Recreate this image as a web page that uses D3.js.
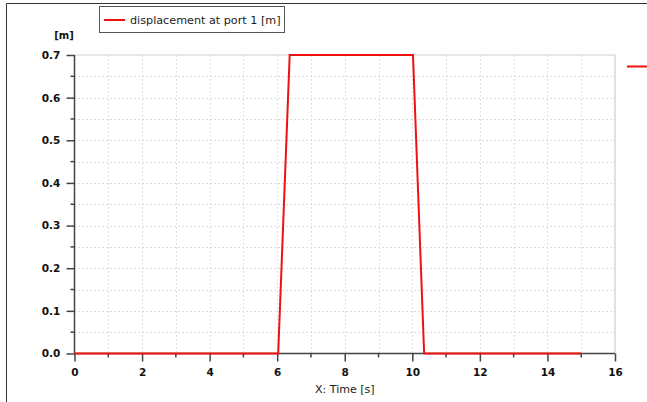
<!DOCTYPE html>
<html><head><meta charset="utf-8">
<script src="https://cdn.jsdelivr.net/npm/d3@7"></script>
<style>body{margin:0;background:#fff;}svg{display:block;}</style>
</head><body>
<svg id="c" width="647" height="402"></svg>
<script>
const time = [0, 6.03, 6.37, 10.02, 10.35, 15];
const displacement = [0, 0, 0.7, 0.7, 0, 0];
const xTicks = [0, 2, 4, 6, 8, 10, 12, 14, 16];
const yTicks = [0.0, 0.1, 0.2, 0.3, 0.4, 0.5, 0.6, 0.7];
const seriesName = "displacement at port 1 [m]";
const yUnit = "[m]";
const xTitle = "X: Time [s]";

const svg = d3.select("#c");
const font = "'DejaVu Sans', Verdana, sans-serif";
const L = 74.5, R = 615, T = 55, B = 353.5;
const x = d3.scaleLinear().domain([0, 16]).range([L, R]);
const y = d3.scaleLinear().domain([0, 0.7]).range([B, T]);

// outer frame
svg.append("path").attr("d", `M6.5,402 V3.5 H647`).attr("fill", "none").attr("stroke", "#333").attr("stroke-width", 1);

// grid
const gx = d3.range(1, 16, 1), gy = d3.range(0.05, 0.7, 0.05);
svg.append("g").selectAll("line").data(gx).join("line")
  .attr("x1", d => Math.round(x(d)) + 0.5).attr("x2", d => Math.round(x(d)) + 0.5)
  .attr("y1", T).attr("y2", B).attr("stroke", "#d4d4d4").attr("stroke-dasharray", "1.5,2.5");
svg.append("g").selectAll("line").data(gy).join("line")
  .attr("y1", d => Math.round(y(d)) + 0.5).attr("y2", d => Math.round(y(d)) + 0.5)
  .attr("x1", L).attr("x2", R).attr("stroke", "#d4d4d4").attr("stroke-dasharray", "1.5,2.5");
// top/right border
svg.append("path").attr("d", `M${L},${T} H${R} V${B}`).attr("fill", "none").attr("stroke", "#cfcfcf").attr("stroke-width", 1.2);

// axes
const xAxis = d3.axisBottom(x).tickValues(xTicks).tickSize(8).tickFormat(d3.format("d"));
const gX = svg.append("g").attr("transform", `translate(0,${B})`).call(xAxis);
const yAxis = d3.axisLeft(y).tickValues(yTicks).tickSize(8).tickFormat(d3.format(".1f"));
const gY = svg.append("g").attr("transform", `translate(${L},0)`).call(yAxis);
[gX, gY].forEach(g => {
  g.select(".domain").attr("stroke", "#444").attr("stroke-width", 1.5);
  g.selectAll(".tick line").attr("stroke", "#444").attr("stroke-width", 1.5);
  g.selectAll("text").attr("font-family", font).attr("font-weight", "bold").attr("font-size", 10.5).attr("fill", "#111");
});
gX.select(".domain").attr("d", `M${L},0H${R}`);
gY.select(".domain").attr("d", `M0,${B}V${T}`);
gX.selectAll("text").attr("dy", "1.05em");
gY.selectAll("text").attr("dx", "-0.3em");
// minor ticks
svg.append("g").selectAll("line").data(d3.range(1, 16, 2)).join("line")
  .attr("x1", d => x(d)).attr("x2", d => x(d)).attr("y1", B).attr("y2", B + 4)
  .attr("stroke", "#444").attr("stroke-width", 1.5);
svg.append("g").selectAll("line").data(d3.range(0.05, 0.7, 0.1)).join("line")
  .attr("y1", d => y(d)).attr("y2", d => y(d)).attr("x1", L).attr("x2", L - 4)
  .attr("stroke", "#444").attr("stroke-width", 1.5);

// series
const pts = time.map((t, i) => [t, displacement[i]]);
svg.append("path").datum(pts)
  .attr("d", d3.line().x(d => x(d[0])).y(d => y(d[1])))
  .attr("fill", "none").attr("stroke", "#ee1111").attr("stroke-width", 2);

// labels
svg.append("text").attr("x", 64).attr("y", 39).attr("text-anchor", "middle")
  .attr("font-family", font).attr("font-weight", "bold").attr("font-size", 10).attr("fill", "#111").text(yUnit);
svg.append("text").attr("x", (L + R) / 2).attr("y", 393).attr("text-anchor", "middle")
  .attr("font-family", font).attr("font-size", 11).attr("fill", "#222").text(xTitle);

// legend
svg.append("rect").attr("x", 99.5).attr("y", 6.5).attr("width", 185).attr("height", 26)
  .attr("fill", "#fff").attr("stroke", "#555").attr("stroke-width", 1);
svg.append("line").attr("x1", 104).attr("x2", 125).attr("y1", 20).attr("y2", 20)
  .attr("stroke", "#ee1111").attr("stroke-width", 2);
svg.append("text").attr("x", 130).attr("y", 24).attr("font-family", font).attr("font-size", 11.2)
  .attr("fill", "#222").text(seriesName);
// clipped legend sample at right edge
svg.append("line").attr("x1", 627).attr("x2", 647).attr("y1", 66.5).attr("y2", 66.5)
  .attr("stroke", "#ee1111").attr("stroke-width", 2);
</script>
</body></html>
